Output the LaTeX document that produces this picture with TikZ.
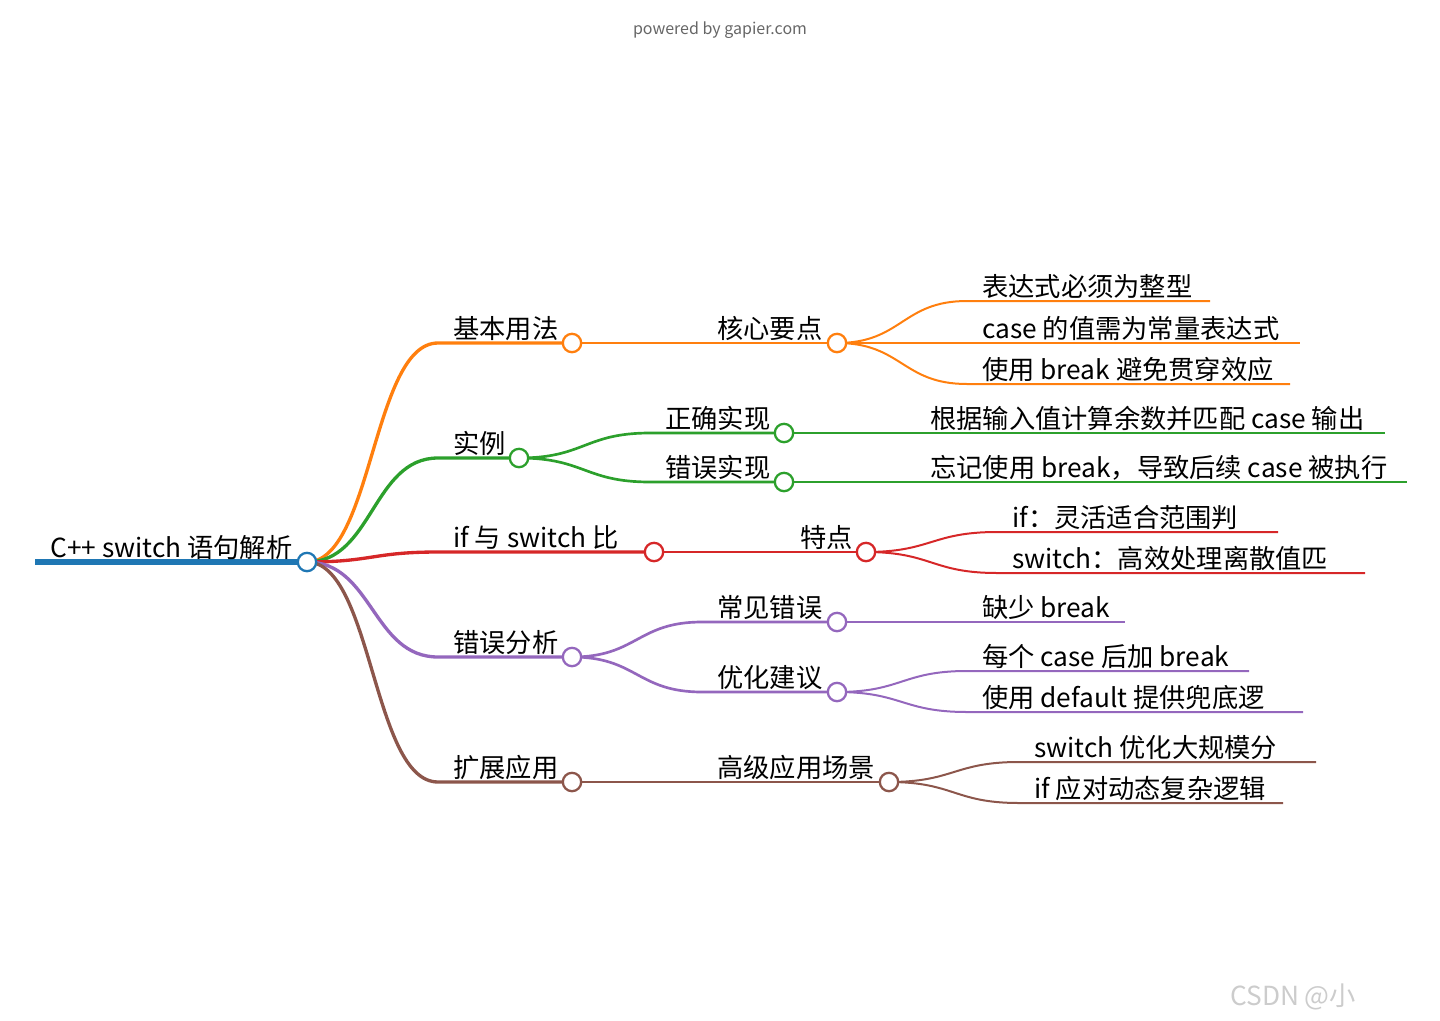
\documentclass[tikz,border=0pt]{standalone}
\usepackage{fontspec}
\setmainfont{Noto Sans CJK SC}
\usepackage{tikz}
\usetikzlibrary{calc}
\definecolor{mmblue}{HTML}{1F77B4}
\definecolor{mmorange}{HTML}{FF7F0E}
\definecolor{mmgreen}{HTML}{2CA02C}
\definecolor{mmred}{HTML}{D62728}
\definecolor{mmpurple}{HTML}{9467BD}
\definecolor{mmbrown}{HTML}{8C564B}
\tikzset{x=0.75pt,y=-0.75pt}
\tikzstyle{dot}=[
	 circle, fill=white,
	 line width=1.7pt,
	 minimum size=13.8pt, inner sep=0pt
    ]
\tikzstyle{lbl}=[
	 anchor=base west, inner sep=0pt,
	 font=\fontsize{19.7}{23}\selectfont
    ]
% parent end -> child start -> child end
\newcommand{\lnk}[4]{\draw[#2, line width=#1] let \p1 = (#3-e), \p2 = (#4-s) in (\p1) .. controls ({0.5*\x1+0.5*\x2},\y1) and ({0.5*\x1+0.5*\x2},\y2) .. (\p2) -- (#4-e)}
\newcommand{\seg}[3]{\coordinate (#1-s) at (#2,#3); \coordinate (#1-e)}

\begin{document}
\begin{tikzpicture}
\useasboundingbox (0,0) rectangle (1440,1021);

\seg{root}{35}{562} at (307,562);
\seg{jb}{438}{343} at (572,343);
\seg{hx}{702}{343} at (837,343);
\seg{hxa}{967}{301} at (1210,301);
\seg{hxb}{967}{343} at (1300,343);
\seg{hxc}{967}{384} at (1290,384);
\seg{sl}{438}{458} at (519,458);
\seg{zq}{650}{433} at (784,433);
\seg{zqa}{915}{433} at (1385,433);
\seg{cw}{650}{482} at (784,482);
\seg{cwa}{915}{482} at (1407,482);
\seg{bj}{438}{552} at (654,552);
\seg{td}{785}{552} at (866,552);
\seg{tda}{997}{532} at (1278,532);
\seg{tdb}{997}{573} at (1365,573);
\seg{cf}{438}{657} at (572,657);
\seg{cj}{702}{622} at (837,622);
\seg{cja}{967}{622} at (1125,622);
\seg{yh}{702}{692} at (837,692);
\seg{yha}{967}{671} at (1249,671);
\seg{yhb}{967}{712} at (1303,712);
\seg{ky}{438}{782} at (572,782);
\seg{gj}{702}{782} at (889,782);
\seg{gja}{1019}{762} at (1316,762);
\seg{gjb}{1019}{803} at (1283,803);

\draw[mmblue, line width=4.3pt] (root-s) -- (root-e);

\lnk{2.5pt}{mmorange}{root}{jb};
\lnk{2pt}{mmorange}{jb}{hx};
\lnk{1.5pt}{mmorange}{hx}{hxa};
\lnk{1.5pt}{mmorange}{hx}{hxb};
\lnk{1.5pt}{mmorange}{hx}{hxc};

\lnk{2.5pt}{mmgreen}{root}{sl};
\lnk{2pt}{mmgreen}{sl}{zq};
\lnk{2pt}{mmgreen}{sl}{cw};
\lnk{1.5pt}{mmgreen}{zq}{zqa};
\lnk{1.5pt}{mmgreen}{cw}{cwa};

\lnk{2.5pt}{mmred}{root}{bj};
\lnk{2pt}{mmred}{bj}{td};
\lnk{1.5pt}{mmred}{td}{tda};
\lnk{1.5pt}{mmred}{td}{tdb};

\lnk{2.5pt}{mmpurple}{root}{cf};
\lnk{2pt}{mmpurple}{cf}{cj};
\lnk{2pt}{mmpurple}{cf}{yh};
\lnk{1.5pt}{mmpurple}{cj}{cja};
\lnk{1.5pt}{mmpurple}{yh}{yha};
\lnk{1.5pt}{mmpurple}{yh}{yhb};

\lnk{2.5pt}{mmbrown}{root}{ky};
\lnk{2pt}{mmbrown}{ky}{gj};
\lnk{1.5pt}{mmbrown}{gj}{gja};
\lnk{1.5pt}{mmbrown}{gj}{gjb};

\node[dot, draw=mmblue] (root-o) at (root-e) {};
\node[dot, draw=mmorange] (jb-o) at (jb-e) {};
\node[dot, draw=mmorange] (hx-o) at (hx-e) {};
\node[dot, draw=mmgreen] (sl-o) at (sl-e) {};
\node[dot, draw=mmgreen] (zq-o) at (zq-e) {};
\node[dot, draw=mmgreen] (cw-o) at (cw-e) {};
\node[dot, draw=mmred] (bj-o) at (bj-e) {};
\node[dot, draw=mmred] (td-o) at (td-e) {};
\node[dot, draw=mmpurple] (cf-o) at (cf-e) {};
\node[dot, draw=mmpurple] (cj-o) at (cj-e) {};
\node[dot, draw=mmpurple] (yh-o) at (yh-e) {};
\node[dot, draw=mmbrown] (ky-o) at (ky-e) {};
\node[dot, draw=mmbrown] (gj-o) at (gj-e) {};

\node[lbl] (root-t) at (50,557) {C++ switch 语句解析};
\node[lbl] (jb-t) at (453,338) {基本用法};
\node[lbl] (hx-t) at (717,338) {核心要点};
\node[lbl] (hxa-t) at (982,296) {表达式必须为整型};
\node[lbl] (hxb-t) at (982,338) {case 的值需为常量表达式};
\node[lbl] (hxc-t) at (982,379) {使用 break 避免贯穿效应};
\node[lbl] (sl-t) at (453,453) {实例};
\node[lbl] (zq-t) at (665,428) {正确实现};
\node[lbl] (zqa-t) at (930,428) {根据输入值计算余数并匹配 case 输出};
\node[lbl] (cw-t) at (665,477) {错误实现};
\node[lbl] (cwa-t) at (930,477) {忘记使用 break，导致后续 case 被执行};
\node[lbl] (bj-t) at (453,547) {if 与 switch 比};
\node[lbl] (td-t) at (800,547) {特点};
\node[lbl] (tda-t) at (1012,527) {if：灵活适合范围判};
\node[lbl] (tdb-t) at (1012,568) {switch：高效处理离散值匹};
\node[lbl] (cf-t) at (453,652) {错误分析};
\node[lbl] (cj-t) at (717,617) {常见错误};
\node[lbl] (cja-t) at (982,617) {缺少 break};
\node[lbl] (yh-t) at (717,687) {优化建议};
\node[lbl] (yha-t) at (982,666) {每个 case 后加 break};
\node[lbl] (yhb-t) at (982,707) {使用 default 提供兜底逻};
\node[lbl] (ky-t) at (453,777) {扩展应用};
\node[lbl] (gj-t) at (717,777) {高级应用场景};
\node[lbl] (gja-t) at (1034,757) {switch 优化大规模分};
\node[lbl] (gjb-t) at (1034,798) {if 应对动态复杂逻辑};

\node[font=\fontsize{12}{14}\selectfont, text=black!60] (credit) at (720,30) {powered by gapier.com};
\node[lbl, text=black!20] (mark) at (1230,1005) {CSDN @小};

\end{tikzpicture}
\end{document}
